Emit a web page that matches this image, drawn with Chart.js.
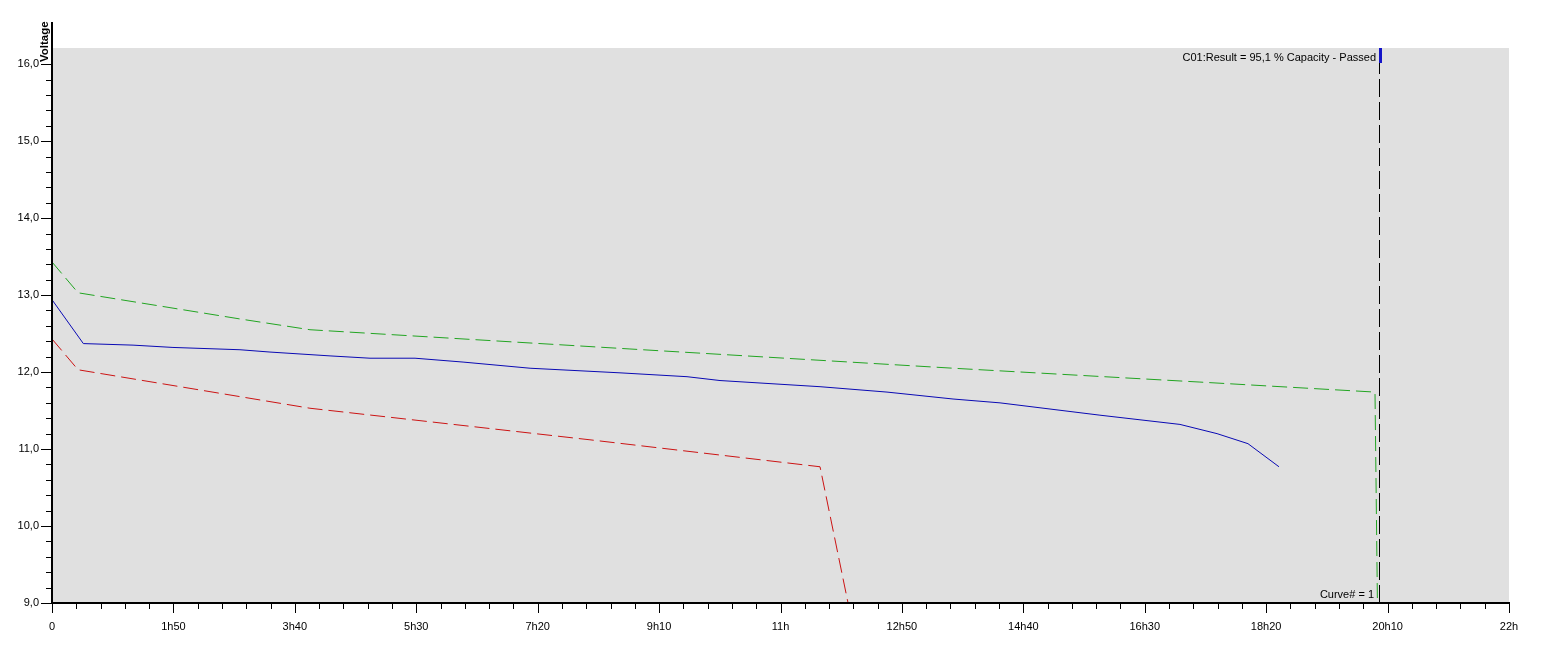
<!DOCTYPE html>
<html><head><meta charset="utf-8">
<script src="https://cdn.jsdelivr.net/npm/chart.js@4/dist/chart.umd.min.js"></script>
<style>html,body{margin:0;padding:0;background:#fff;overflow:hidden}#wrap{width:1557px;height:664px;position:relative}</style>
</head><body><div id="wrap"><canvas id="c" width="1557" height="664"></canvas></div>
<script>
// ---- axis ticks ----
const xTickMinutes = [0,110,220,330,440,550,660,770,880,990,1100,1210,1320];
const xTickLabels  = ['0','1h50','3h40','5h30','7h20','9h10','11h','12h50','14h40','16h30','18h20','20h10','22h'];
const yTickValues  = [9,10,11,12,13,14,15,16];
const yTickLabels  = ['9,0','10,0','11,0','12,0','13,0','14,0','15,0','16,0'];
const yAxisTitle   = 'Voltage';

// ---- series (time in minutes, voltage in V) ----
const greenTime = [0, 23.6, 79.7, 170.3, 233.7, 523.6, 816.3, 1040, 1198.6, 1200.8];
const greenVolt = [13.43, 13.03, 12.90, 12.69, 12.55, 12.30, 12.05, 11.87, 11.74, 9.0];

const blueTime = [0, 28.4, 73.4, 109.6, 170.3, 197.5, 251.9, 288.1, 328.9, 372.4, 433.1, 514.6, 575.3, 605.2, 650.5, 695.8, 756.5, 816.3, 858.9, 949.4, 1021.9, 1055.5, 1083.5, 1111.6];
const blueVolt = [12.94, 12.37, 12.35, 12.32, 12.29, 12.26, 12.21, 12.18, 12.18, 12.13, 12.05, 11.99, 11.94, 11.89, 11.85, 11.81, 11.74, 11.65, 11.60, 11.44, 11.32, 11.20, 11.07, 10.77];

const redTime = [0, 23.6, 233.7, 487.4, 695.8, 721.2];
const redVolt = [12.43, 12.03, 11.53, 11.12, 10.77, 9.0];

const markerTime = 1202.68;
const resultText = 'C01:Result = 95,1 % Capacity - Passed';
const curveText  = 'Curve# = 1';

const Y_MIN = 9, Y_MAX = 16.21, X_MIN = 0, X_MAX = 1320;

function pts(t, v){ return t.map((x,i)=>({x:x, y:v[i]})); }

const FONT = '"Liberation Sans", Arial, sans-serif';

const decor = {
  id: 'decor',
  beforeDraw(chart){
    const {ctx, chartArea:a} = chart;
    ctx.save();
    ctx.fillStyle = '#ffffff';
    ctx.fillRect(0,0,chart.width,chart.height);
    ctx.fillStyle = '#e0e0e0';
    ctx.fillRect(a.left, a.top, a.right-a.left, a.bottom-a.top);
    ctx.restore();
  },
  afterDraw(chart){
    const {ctx, chartArea:a, scales:{x, y}} = chart;
    ctx.save();
    ctx.fillStyle = '#000';
    const L = Math.round(a.left), B = Math.round(a.bottom);
    // axis lines
    ctx.fillRect(L-1, 22, 2, B-22+1);
    ctx.fillRect(L-1, B-1, Math.round(a.right)-L+2, 2);
    // y ticks
    for (let v = Y_MIN; v <= 16.0001; v += 0.2){
      const py = Math.round(y.getPixelForValue(v));
      const major = Math.abs(v - Math.round(v)) < 1e-6;
      const len = major ? 10 : 5;
      ctx.fillRect(L-1-len, py, len, 1);
    }
    // x ticks
    for (let m = X_MIN; m <= X_MAX + 0.001; m += 22){
      const px = Math.round(x.getPixelForValue(m));
      const major = (m % 110) === 0;
      const len = major ? 9 : 5;
      ctx.fillRect(px, B+1, 1, len);
    }
    // y axis title
    ctx.save();
    ctx.translate(48, 62);
    ctx.rotate(-Math.PI/2);
    ctx.font = 'bold 11.5px ' + FONT;
    ctx.textAlign = 'left';
    ctx.textBaseline = 'alphabetic';
    ctx.fillText(yAxisTitle, 0, 0);
    ctx.restore();
    // marker
    const mx = Math.floor(x.getPixelForValue(markerTime));
    ctx.fillStyle = '#1414c8';
    ctx.fillRect(mx, Math.round(a.top), 3, 15);
    ctx.fillStyle = '#000';
    ctx.font = '11px ' + FONT;
    ctx.textAlign = 'right';
    ctx.textBaseline = 'alphabetic';
    ctx.fillText(resultText, mx-3, 61);
    ctx.fillText(curveText, mx-5, 598);
    ctx.restore();
  }
};

new Chart(document.getElementById('c'), {
  type: 'line',
  data: {
    datasets: [
      { data: pts(greenTime, greenVolt), borderColor: '#22a522', borderWidth: 1, borderDash: [15,6], pointRadius: 0, fill: false, tension: 0 },
      { data: pts(redTime, redVolt), borderColor: '#cc1414', borderWidth: 1, borderDash: [15,6], pointRadius: 0, fill: false, tension: 0 },
      { data: pts(blueTime, blueVolt), borderColor: '#0a0ab4', borderWidth: 1, pointRadius: 0, fill: false, tension: 0 },
      { data: [{x: markerTime, y: Y_MIN}, {x: markerTime, y: Y_MAX}], borderColor: '#000', borderWidth: 1, borderDash: [18,5], pointRadius: 0, fill: false }
    ]
  },
  options: {
    responsive: false,
    animation: false,
    events: [],
    layout: { padding: { left: 0, top: 48, right: 48, bottom: 0 } },
    plugins: { legend: { display: false }, tooltip: { enabled: false } },
    scales: {
      x: {
        type: 'linear', min: X_MIN, max: X_MAX,
        afterBuildTicks: s => { s.ticks = xTickMinutes.map(v => ({value: v})); },
        afterFit: s => { s.height = 61; },
        grid: { display: true, drawOnChartArea: false, drawTicks: false },
        border: { display: false },
        ticks: {
          autoSkip: false, maxRotation: 0, minRotation: 0, padding: 17,
          color: '#000', font: { family: FONT, size: 11 },
          callback: (v) => { const i = xTickMinutes.indexOf(v); return i >= 0 ? xTickLabels[i] : ''; }
        }
      },
      y: {
        type: 'linear', min: Y_MIN, max: Y_MAX,
        afterBuildTicks: s => { s.ticks = yTickValues.map(v => ({value: v})); },
        afterFit: s => { s.width = 52; },
        grid: { display: true, drawOnChartArea: false, drawTicks: false },
        border: { display: false },
        ticks: {
          padding: 13, color: '#000', font: { family: FONT, size: 11 },
          callback: (v) => { const i = yTickValues.indexOf(v); return i >= 0 ? yTickLabels[i] : ''; }
        }
      }
    }
  },
  plugins: [decor]
});
</script></body></html>
